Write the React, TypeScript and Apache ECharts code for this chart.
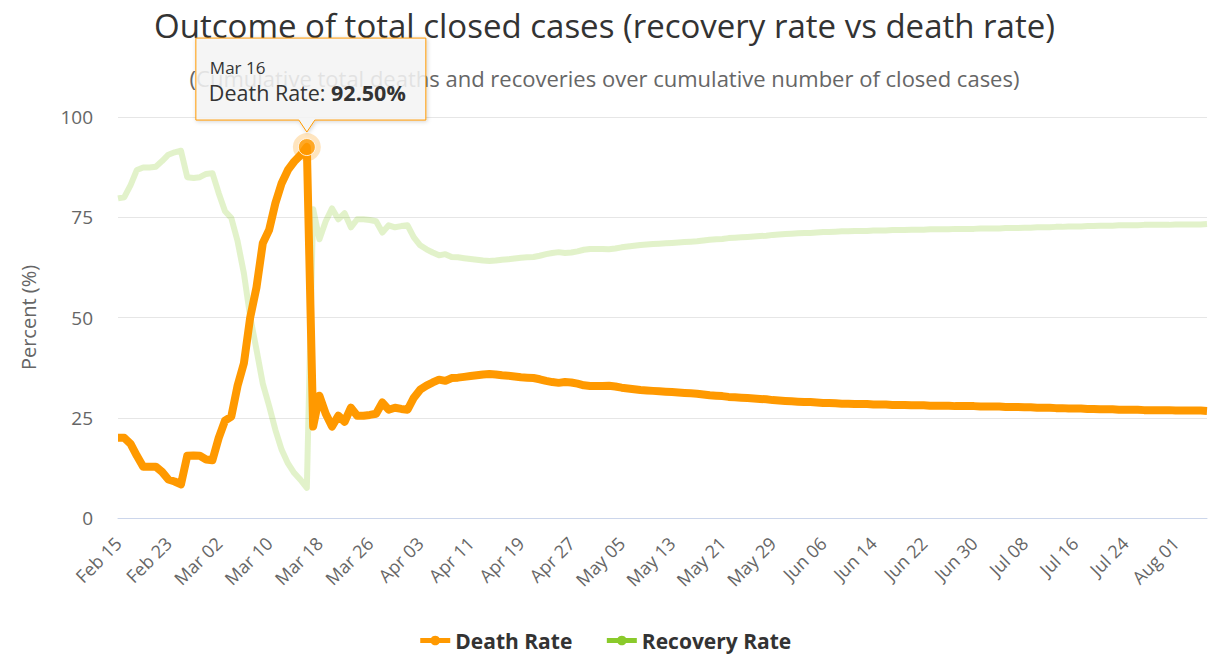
import React, { useEffect, useRef } from "react";
import * as echarts from "echarts";

const TITLE = "Outcome of total closed cases (recovery rate vs death rate)";
const SUBTITLE = "(Cumulative total deaths and recoveries over cumulative number of closed cases)";
const Y_AXIS_NAME = "Percent (%)";
const SERIES_NAMES = ["Death Rate", "Recovery Rate"];
const START_DATE = [2020, 1, 15];
const DAY_COUNT = 174;
const MONTHS = ["Jan", "Feb", "Mar", "Apr", "May", "Jun", "Jul", "Aug", "Sep", "Oct", "Nov", "Dec"];
const Y_TICKS = [0, 25, 50, 75, 100];
const PEAK_INDEX = 30;

const deathRate = [
  20, 20, 18.5, 15.5, 12.8, 12.8, 12.8, 11.5, 9.6, 9.1,
  8.4, 15.5, 15.6, 15.5, 14.6, 14.4, 20, 24.3, 25.3, 33,
  38.6, 50, 57.5, 68.5, 71.8, 78.5, 83.5, 86.8, 88.9, 90.5,
  92.5, 22.8, 30.5, 26, 22.8, 25.5, 24, 27.5, 25.5, 25.5,
  25.7, 26, 28.8, 27, 27.5, 27.2, 27, 30, 32, 33,
  33.8, 34.5, 34.2, 34.9, 35.0, 35.2, 35.4, 35.6, 35.8, 35.9,
  35.8, 35.6, 35.5, 35.3, 35.1, 35.0, 34.9, 34.6, 34.2, 33.9,
  33.7, 33.9, 33.8, 33.5, 33.1, 32.9, 32.9, 32.9, 33.0, 32.8,
  32.5, 32.3, 32.1, 31.9, 31.8, 31.7, 31.6, 31.5, 31.4, 31.3,
  31.2, 31.1, 31.0, 30.8, 30.6, 30.5, 30.4, 30.2, 30.1, 30.0,
  29.9, 29.8, 29.7, 29.6, 29.4, 29.3, 29.2, 29.1, 29.0, 28.9,
  28.9, 28.8, 28.7, 28.7, 28.6, 28.5, 28.5, 28.4, 28.4, 28.4,
  28.3, 28.3, 28.3, 28.2, 28.2, 28.2, 28.1, 28.1, 28.1, 28.0,
  28.0, 28.0, 28.0, 27.9, 27.9, 27.9, 27.9, 27.8, 27.8, 27.8,
  27.8, 27.7, 27.7, 27.7, 27.6, 27.6, 27.5, 27.5, 27.5, 27.4,
  27.4, 27.3, 27.3, 27.3, 27.2, 27.2, 27.1, 27.1, 27.1, 27.0,
  27.0, 27.0, 27.0, 26.9, 26.9, 26.9, 26.9, 26.9, 26.8, 26.8,
  26.8, 26.8, 26.8, 26.7,
];

const recoveryRate = [
  79.7, 80, 83, 86.8, 87.4, 87.4, 87.6, 89, 90.6, 91.2,
  91.6, 85, 84.8, 85, 85.8, 86, 81, 76.5, 74.8, 69,
  61, 50.2, 42, 33.5, 28, 22, 17, 13.6, 11.2, 9.5,
  7.5, 77, 69.5, 74, 77.2, 74.5, 76, 72.5, 74.5, 74.5,
  74.3, 74, 71.2, 73, 72.5, 72.8, 73, 70, 68, 67,
  66.2, 65.5, 65.8, 65.1, 65, 64.8, 64.6, 64.4, 64.2, 64.1,
  64.2, 64.4, 64.5, 64.7, 64.9, 65.0, 65.1, 65.4, 65.8, 66.1,
  66.3, 66.1, 66.2, 66.5, 66.9, 67.1, 67.1, 67.1, 67.0, 67.2,
  67.5, 67.7, 67.9, 68.1, 68.2, 68.3, 68.4, 68.5, 68.6, 68.7,
  68.8, 68.9, 69.0, 69.2, 69.4, 69.5, 69.6, 69.8, 69.9, 70.0,
  70.1, 70.2, 70.3, 70.4, 70.6, 70.7, 70.8, 70.9, 71.0, 71.1,
  71.1, 71.2, 71.3, 71.3, 71.4, 71.5, 71.5, 71.6, 71.6, 71.6,
  71.7, 71.7, 71.7, 71.8, 71.8, 71.8, 71.9, 71.9, 71.9, 72.0,
  72.0, 72.0, 72.0, 72.1, 72.1, 72.1, 72.1, 72.2, 72.2, 72.2,
  72.2, 72.3, 72.3, 72.3, 72.4, 72.4, 72.5, 72.5, 72.5, 72.6,
  72.6, 72.7, 72.7, 72.7, 72.8, 72.8, 72.9, 72.9, 72.9, 73.0,
  73.0, 73.0, 73.0, 73.1, 73.1, 73.1, 73.1, 73.1, 73.2, 73.2,
  73.2, 73.2, 73.2, 73.3,
];

function buildCategories(): string[] {
  const out: string[] = [];
  const d = new Date(START_DATE[0], START_DATE[1], START_DATE[2]);
  for (let i = 0; i < DAY_COUNT; i++) {
    const day = d.getDate();
    out.push(`${MONTHS[d.getMonth()]} ${day < 10 ? "0" + day : day}`);
    d.setDate(d.getDate() + 1);
  }
  return out;
}

const categories = buildCategories();

const FONT = '"Open Sans", "Noto Sans", sans-serif';
const ORANGE = "#FF9900";
const GREEN = "#8ACA2B";

export default function App() {
  const ref = useRef<HTMLDivElement>(null);
  useEffect(() => {
    if (!ref.current) return;
    const chart = echarts.init(ref.current, null, { renderer: "svg" });
    chart.setOption({
      animation: false,
      backgroundColor: "#ffffff",
      textStyle: { fontFamily: FONT },
      title: [
        {
          text: TITLE,
          left: "center",
          top: 4,
          textStyle: { fontFamily: FONT, fontSize: 33, fontWeight: "normal", color: "#333333" },
        },
        {
          text: SUBTITLE,
          left: "center",
          top: 62,
          textStyle: { fontFamily: FONT, fontSize: 22, fontWeight: "normal", color: "#666666" },
        },
      ],
      legend: {
        data: SERIES_NAMES,
        bottom: 0,
        left: "center",
        itemWidth: 30,
        itemHeight: 12,
        itemGap: 32,
        lineStyle: { width: 5, opacity: 1 },
        itemStyle: { opacity: 1 },
        textStyle: { fontFamily: FONT, fontSize: 21, fontWeight: "bold", color: "#333333" },
      },
      grid: { left: 118, right: 2, top: 117, bottom: 138, containLabel: false },
      xAxis: {
        type: "category",
        data: categories,
        boundaryGap: false,
        axisLine: { lineStyle: { color: "#ccd6eb", width: 1 } },
        axisTick: { show: false },
        axisLabel: {
          interval: 7,
          rotate: 45,
          margin: 22,
          color: "#666666",
          fontFamily: FONT,
          fontSize: 18,
        },
        splitLine: { show: false },
      },
      yAxis: {
        type: "value",
        min: Y_TICKS[0],
        max: Y_TICKS[Y_TICKS.length - 1],
        interval: Y_TICKS[1] - Y_TICKS[0],
        name: Y_AXIS_NAME,
        nameLocation: "middle",
        nameRotate: 90,
        nameGap: 80,
        nameTextStyle: { color: "#666666", fontFamily: FONT, fontSize: 20 },
        axisLine: { show: false },
        axisTick: { show: false },
        axisLabel: { color: "#666666", fontFamily: FONT, fontSize: 19, margin: 25 },
        splitLine: { lineStyle: { color: "#e6e6e6", width: 1 } },
      },
      series: [
        {
          name: SERIES_NAMES[1],
          type: "line",
          data: recoveryRate,
          symbol: "circle",
          showSymbol: false,
          color: GREEN,
          lineStyle: { width: 6, opacity: 0.25, join: "round" },
          z: 2,
        },
        {
          name: SERIES_NAMES[0],
          type: "line",
          data: deathRate,
          symbol: "circle",
          showSymbol: false,
          color: ORANGE,
          lineStyle: { width: 8, join: "round" },
          z: 3,
        },
        {
          name: "halo",
          type: "scatter",
          data: [[PEAK_INDEX, deathRate[PEAK_INDEX]]],
          symbolSize: 28,
          itemStyle: { color: ORANGE, opacity: 0.25 },
          z: 4,
          silent: true,
        },
        {
          name: "peak",
          type: "scatter",
          data: [[PEAK_INDEX, deathRate[PEAK_INDEX]]],
          symbolSize: 17,
          itemStyle: { color: ORANGE, borderColor: "#ffffff", borderWidth: 1 },
          z: 5,
          silent: true,
        },
      ],
    });

    const [px, py] = chart.convertToPixel({ xAxisIndex: 0, yAxisIndex: 0 }, [PEAK_INDEX, deathRate[PEAK_INDEX]]);
    const l = px - 111;
    const r = px + 119;
    const t = py - 109;
    const b = py - 27;
    const tip = py - 15;
    chart.setOption({
      graphic: [
        {
          type: "polygon",
          z: 100,
          shape: {
            points: [
              [l, t], [r, t], [r, b], [px + 8, b], [px, tip], [px - 8, b], [l, b],
            ],
          },
          style: {
            fill: "rgba(247,247,247,0.85)",
            stroke: ORANGE,
            lineWidth: 1,
            shadowBlur: 4,
            shadowOffsetX: 1,
            shadowOffsetY: 1,
            shadowColor: "rgba(0,0,0,0.2)",
          },
        },
        {
          type: "text",
          z: 101,
          x: l + 14,
          y: t + 29,
          style: {
            text: categories[PEAK_INDEX].replace(" 0", " "),
            fontFamily: FONT,
            fontSize: 17,
            fill: "#333333",
            verticalAlign: "middle",
          },
        },
        {
          type: "text",
          z: 101,
          x: l + 13,
          y: t + 54,
          style: {
            text: `${SERIES_NAMES[0]}: {b|${deathRate[PEAK_INDEX].toFixed(2)}%}`,
            fontFamily: FONT,
            fontSize: 21.5,
            fill: "#333333",
            verticalAlign: "middle",
            rich: { b: { fontFamily: FONT, fontSize: 21.5, fontWeight: "bold", fill: "#333333" } },
          },
        },
      ],
    });

    return () => chart.dispose();
  }, []);
  return <div ref={ref} style={{ position: "fixed", left: 0, top: 0, width: 1209, height: 656 }} />;
}
